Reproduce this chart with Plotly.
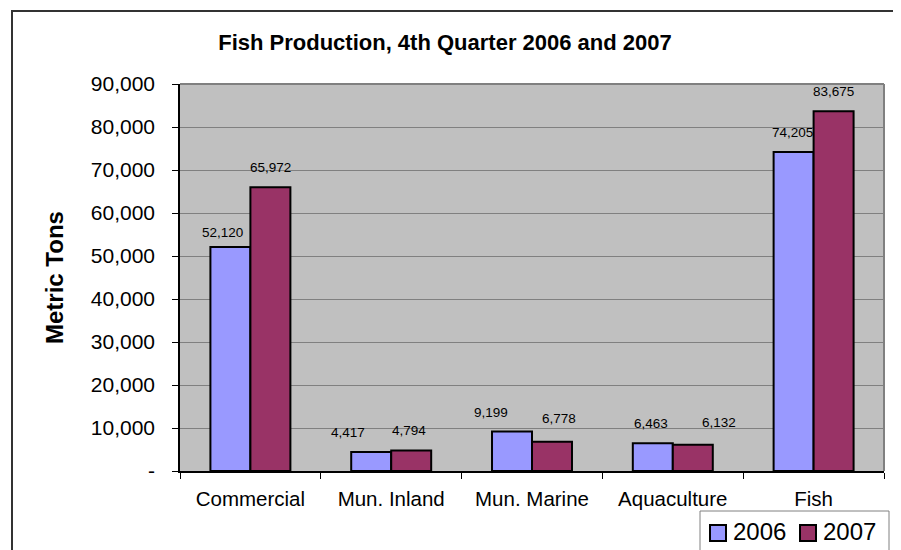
import plotly.graph_objects as go

categories = ["Commercial", "Mun. Inland", "Mun. Marine", "Aquaculture", "Fish"]
values_2006 = [52120, 4417, 9199, 6463, 74205]
values_2007 = [65972, 4794, 6778, 6132, 83675]
series_names = ["2006", "2007"]
y_tick_values = [0, 10000, 20000, 30000, 40000, 50000, 60000, 70000, 80000, 90000]
y_tick_labels = ["-", "10,000", "20,000", "30,000", "40,000", "50,000",
                 "60,000", "70,000", "80,000", "90,000"]

# hand-placed data-label nudges (pixels), as in the original chart
label_dx_2006 = [-7.5, -23, -21.5, -2, -1]
label_dx_2007 = [0, -2.5, 7.5, 26.5, 0]
label_dy_2006 = [-5.5, 0, -1, 0, 0]
label_dy_2007 = [0.5, 0, 4, 2.5, 0]

FONT = "Liberation Sans, Arial, sans-serif"
COLORS = ["#9999FF", "#993366"]
OX = OY = 8                      # page body margin offset
W, H = 893, 542
L, T = 180 - OX, 84 - OY
PR, PB = 884 - OX, 471 - OY      # plot right / bottom in figure px
R, B = W - PR, H - PB
PW, PH = PR - L, PB - T


def fx(x):  # page px -> paper x
    return (x - OX - L) / PW


def fy(y):  # page px -> paper y
    return (PB - (y - OY)) / PH


fig = go.Figure()
for name, vals, col in zip(series_names, [values_2006, values_2007], COLORS):
    fig.add_trace(go.Bar(name=name, x=categories, y=vals, showlegend=False,
                         marker=dict(color=col, line=dict(color="#000000", width=2))))

half = PW / len(categories) * (1 - 0.432) / 4
for vals, sx, dxs, dys in [(values_2006, -half, label_dx_2006, label_dy_2006),
                           (values_2007, half, label_dx_2007, label_dy_2007)]:
    for c, v, dx, dy in zip(categories, vals, dxs, dys):
        fig.add_annotation(x=c, y=v, text=f"{v:,}", showarrow=False,
                           xshift=sx + dx, yshift=10 + dy, yanchor="bottom",
                           font=dict(family=FONT, size=13.5, color="#000000"))

# y-axis title
fig.add_annotation(xref="paper", yref="paper", x=fx(54), y=fy(278),
                   text="<b>Metric Tons</b>", textangle=-90, showarrow=False,
                   xanchor="center", yanchor="middle",
                   font=dict(family=FONT, size=24, color="#000000"))

# outer chart border (extends past the visible frame)
fig.add_shape(type="rect", xref="paper", yref="paper", layer="below",
              x0=fx(12), x1=fx(915), y0=fy(565), y1=fy(11),
              line=dict(color="#333333", width=2), fillcolor="rgba(0,0,0,0)")
# plot area border top/right
fig.add_shape(type="line", xref="paper", yref="paper", x0=0, x1=1, y0=1, y1=1,
              line=dict(color="#808080", width=2))
fig.add_shape(type="line", xref="paper", yref="paper", x0=1, x1=1, y0=0, y1=1,
              line=dict(color="#808080", width=2))

# legend (drawn by hand to match the original's large swatches)
fig.add_shape(type="rect", xref="paper", yref="paper",
              x0=fx(700), x1=fx(889), y0=fy(570), y1=fy(511),
              line=dict(color="#808080", width=1), fillcolor="#FFFFFF")
for name, col, sx0, tx0 in zip(series_names, COLORS, [710, 800], [731, 821]):
    fig.add_shape(type="rect", xref="paper", yref="paper",
                  x0=fx(sx0), x1=fx(sx0 + 16), y0=fy(541), y1=fy(525),
                  line=dict(color="#000000", width=2), fillcolor=col)
    fig.add_annotation(xref="paper", yref="paper", x=fx(tx0), y=fy(531),
                       text=name, showarrow=False, xanchor="left", yanchor="middle",
                       font=dict(family=FONT, size=24, color="#000000"))

fig.update_layout(
    width=W, height=H,
    margin=dict(l=L, r=R, t=T, b=B),
    paper_bgcolor="#FFFFFF", plot_bgcolor="#C0C0C0",
    barmode="group", bargap=0.432, bargroupgap=0,
    font=dict(family=FONT, color="#000000"),
    title=dict(text="<b>Fish Production, 4th Quarter 2006 and 2007</b>",
               x=(445 - OX) / W, y=1 - (42 - OY) / H, xref="container", yref="container",
               xanchor="center", yanchor="middle",
               font=dict(family=FONT, size=22, color="#000000")),
    showlegend=False,
    xaxis=dict(showline=True, linecolor="#000000", linewidth=1.5,
               ticks="outside", tickson="boundaries", ticklen=6, tickcolor="#000000",
               tickfont=dict(family=FONT, size=20.5, color="#000000"),
               showgrid=False, ticklabelstandoff=9, automargin=False),
    yaxis=dict(range=[0, 90000], tickvals=y_tick_values, ticktext=y_tick_labels,
               showline=True, linecolor="#000000", linewidth=1.5,
               ticks="outside", ticklen=6, tickcolor="#000000",
               tickfont=dict(family=FONT, size=21, color="#000000"),
               showgrid=True, gridcolor="#808080", gridwidth=1,
               zeroline=False, ticklabelstandoff=13, automargin=False),
)

fig.write_html("out.html")
